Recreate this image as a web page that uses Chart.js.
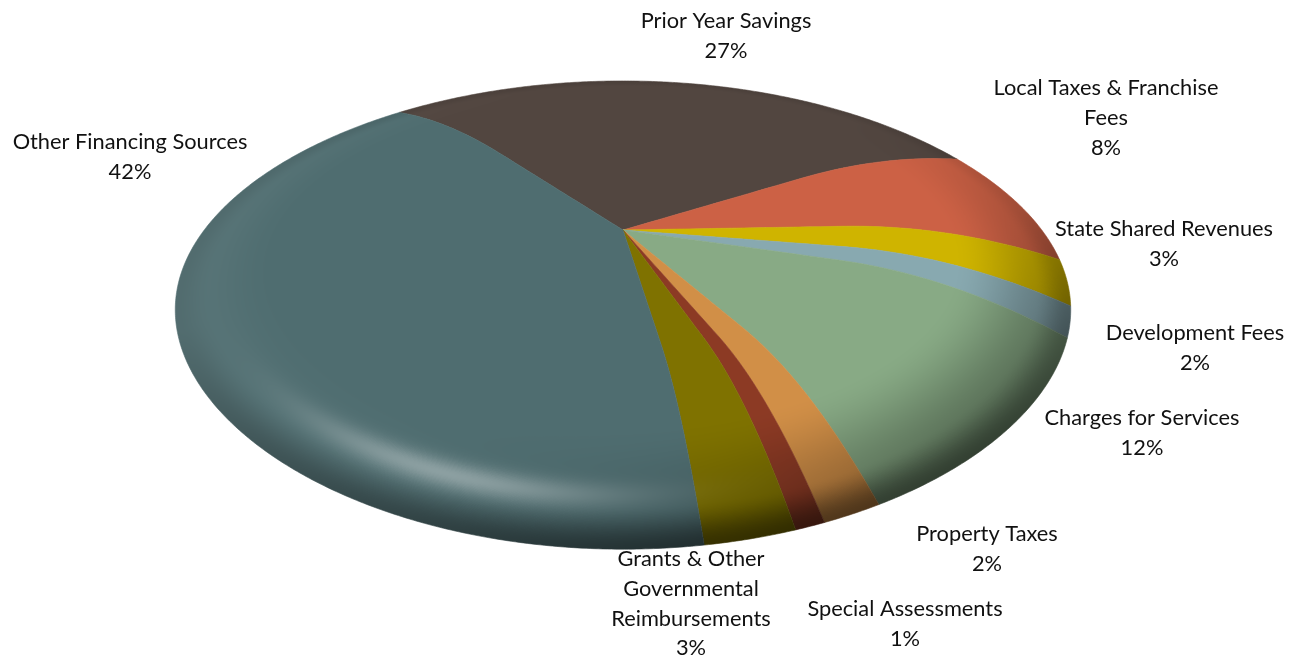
<!DOCTYPE html>
<html>
<head>
<meta charset="utf-8">
<title>Revenue sources</title>
<script src="https://cdn.jsdelivr.net/npm/chart.js@4/dist/chart.umd.js"></script>
<style>
    html, body { margin: 0; padding: 0; background: #ffffff; }
    canvas { display: block; }
</style>
</head>
<body>
<canvas id="sourcesPie" width="1308" height="655"></canvas>
<script>
// --- Data ---
const categories = [
    ['Prior Year Savings'],
    ['Local Taxes & Franchise', 'Fees'],
    ['State Shared Revenues'],
    ['Development Fees'],
    ['Charges for Services'],
    ['Property Taxes'],
    ['Special Assessments'],
    ['Grants & Other', 'Governmental', 'Reimbursements'],
    ['Other Financing Sources']
];
const shareValues = [27, 8, 3, 2, 12, 2, 1, 3, 42];
const sliceColors = ['#524640', '#cc6145', '#cfb400', '#88a9b0', '#88aa85', '#d18f47', '#8c3a24', '#7f7200', '#4f6d70'];

// Label anchors: centre x and y of the first line
const labelAnchors = [
    [726, 21], [1106, 88], [1164, 229], [1195, 333], [1142, 418],
    [987, 534], [905, 609], [691, 559], [130, 142]
];
const labelLineHeight = 29.8;

// --- Tilted, domed disc projection ---
const view = { cx: 623, cy: 230, a: 440, b: 214, rimStart: 0.5 };

function project(r, theta) {
    const u = r * Math.sin(theta);
    const v = -r * Math.cos(theta);
    const dir = -Math.cos(theta);
    const t = r > view.rimStart ? (r - view.rimStart) / (1 - view.rimStart) : 0;
    // the far half foreshortens harder, the near half's rim falls away further
    const k = 0.205 - 0.077 * Math.tanh(1.5 * v);
    const drop = 38 + 19 * dir + 5 * dir * dir;
    const w = 1 - k * v;
    return [view.cx + view.a * u / w, view.cy + (view.b * v + drop * t * t) / w];
}

function smooth(a, b, x) {
    const t = Math.min(1, Math.max(0, (x - a) / (b - a)));
    return t * t * (3 - 2 * t);
}

function angleGap(deg, centre) {
    return Math.abs(((deg - centre + 540) % 360) - 180);
}

// Returns [darkening factor, white mix] for a point on the disc
function shade(r, deg) {
    const cosTo = (c) => Math.max(0, Math.cos((deg - c) * Math.PI / 180));
    let m = 1;
    m *= 1 - 0.35 * smooth(0.74, 0.98, r) * Math.pow(cosTo(125), 2);
    m *= 1 - smooth(0.92, 1, r) * (0.08 + 0.4 * cosTo(165));
    const left = smooth(0.78, 0.97, r) * Math.pow(cosTo(265), 2) * 0.05;
    const spec = Math.exp(-Math.pow((r - 0.9) / 0.028, 2)) * Math.exp(-Math.pow(angleGap(deg, 203) / 22, 2)) * 0.34;
    return [m, left + spec];
}

const domedPie = {
    id: 'domedPie',
    // Slices are traced through the projection, using the arcs the controller computed
    beforeDatasetDraw(chart) {
        const ctx = chart.ctx;
        chart.getDatasetMeta(0).data.forEach((arc, i) => {
            const start = arc.startAngle + Math.PI / 2;
            const end = arc.endAngle + Math.PI / 2;
            ctx.beginPath();
            ctx.moveTo(view.cx, view.cy);
            for (let s = 1; s <= 40; s++) {
                const p = project(s / 40, start);
                ctx.lineTo(p[0], p[1]);
            }
            const steps = Math.ceil((end - start) * 120);
            for (let s = 1; s <= steps; s++) {
                const p = project(1, start + (end - start) * s / steps);
                ctx.lineTo(p[0], p[1]);
            }
            for (let s = 39; s >= 1; s--) {
                const p = project(s / 40, end);
                ctx.lineTo(p[0], p[1]);
            }
            ctx.closePath();
            ctx.fillStyle = sliceColors[i];
            ctx.strokeStyle = sliceColors[i];
            ctx.lineWidth = 0.6;
            ctx.fill();
            ctx.stroke();
        });
        return false;
    },
    // Rim lighting applied to the painted pixels
    afterDatasetsDraw(chart) {
        const ctx = chart.ctx;
        const w = chart.width, h = chart.height;
        const mul = new Float32Array(w * h).fill(1);
        const add = new Float32Array(w * h);
        for (let i = 0; i < 5000; i++) {
            const deg = i * 360 / 5000;
            const theta = deg * Math.PI / 180;
            for (let j = 0; j <= 400; j++) {
                const r = 0.55 + 0.45 * j / 400;
                const p = project(r, theta);
                const idx = Math.round(p[1]) * w + Math.round(p[0]);
                if (idx < 0 || idx >= mul.length) continue;
                const s = shade(r, deg);
                mul[idx] = s[0];
                add[idx] = s[1];
            }
        }
        const img = ctx.getImageData(0, 0, w, h);
        for (let n = 0; n < mul.length; n++) {
            if (mul[n] === 1 && add[n] === 0) continue;
            for (let c = 0; c < 3; c++) {
                const v = img.data[n * 4 + c] * mul[n];
                img.data[n * 4 + c] = v + (255 - v) * add[n];
            }
        }
        ctx.putImageData(img, 0, 0);
    },
    afterDraw(chart) {
        const ctx = chart.ctx;
        ctx.save();
        ctx.font = '21.8px Lato';
        ctx.fillStyle = '#111111';
        ctx.textAlign = 'center';
        ctx.textBaseline = 'middle';
        categories.forEach((lines, i) => {
            const [x, y] = labelAnchors[i];
            lines.concat(shareValues[i] + '%').forEach((text, l) => {
                ctx.fillText(text, x, y + l * labelLineHeight);
            });
        });
        ctx.restore();
    }
};

new Chart(document.getElementById('sourcesPie').getContext('2d'), {
    type: 'pie',
    data: {
        labels: categories,
        datasets: [{
            data: shareValues,
            backgroundColor: sliceColors,
            borderWidth: 0
        }]
    },
    options: {
        responsive: false,
        animation: false,
        rotation: -38, // first slice starts left of twelve o'clock
        plugins: {
            legend: { display: false },
            tooltip: { enabled: false }
        }
    },
    plugins: [domedPie]
});
</script>
</body>
</html>
